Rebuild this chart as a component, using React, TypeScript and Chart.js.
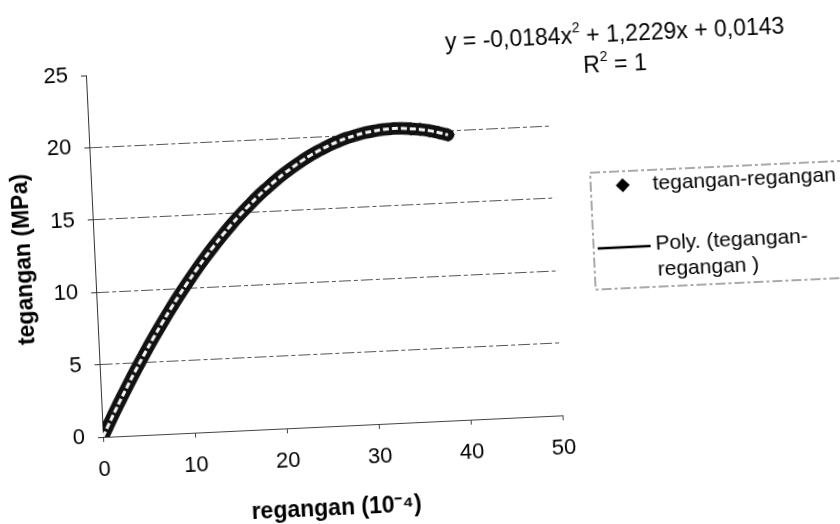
import React, { useEffect, useRef } from "react";
import { Chart, registerables } from "chart.js";

Chart.register(...registerables);

// ---- data ----
const strain = [0, 0.5, 1, 1.5, 2, 3, 4, 5, 6, 7, 8, 9, 10, 11, 12, 13, 14, 15, 16, 17, 18, 19, 20, 21, 22, 23, 24, 25, 26, 27, 28, 29, 30, 31, 32, 33, 34, 35, 36, 37, 38, 39];
const stress = [0.01, 0.62, 1.22, 1.81, 2.39, 3.52, 4.61, 5.67, 6.69, 7.67, 8.62, 9.53, 10.4, 11.24, 12.04, 12.8, 13.53, 14.22, 14.87, 15.48, 16.07, 16.6, 17.11, 17.58, 18.01, 18.4, 18.77, 19.08, 19.37, 19.61, 19.83, 19.99, 20.14, 20.23, 20.31, 20.33, 20.32, 20.26, 20.19, 20.07, 19.91, 19.72];
const xTicks = [0, 10, 20, 30, 40, 50];
const yTicks = [0, 5, 10, 15, 20, 25];
const eqParts = ["y = -0,0184x", "2", " + 1,2229x + 0,0143"];
const r2Parts = ["R", "2", " = 1"];
const legendLabels = ["tegangan-regangan", "Poly. (tegangan-", "regangan )"];
const xTitle = "regangan (10⁻⁴)";
const yTitle = "tegangan (MPa)";

const FONT = "'Liberation Sans', Arial, Helvetica, sans-serif";
const OFF = 20; // canvas is larger than the page on every side

const extrasPlugin = {
  id: "extras",
  afterDraw(chart: any) {
    const ctx = chart.ctx as CanvasRenderingContext2D;
    ctx.save();
    ctx.fillStyle = "#000";
    ctx.textBaseline = "middle";
    ctx.textAlign = "left";

    const drawSup = (parts: string[], cx: number, cy: number, size: number) => {
      const big = `${size}px ${FONT}`;
      const small = `${Math.round(size * 0.62)}px ${FONT}`;
      ctx.font = big;
      const w0 = ctx.measureText(parts[0]).width;
      const w2 = ctx.measureText(parts[2]).width;
      ctx.font = small;
      const w1 = ctx.measureText(parts[1]).width;
      let x = cx - (w0 + w1 + w2) / 2;
      ctx.font = big;
      ctx.fillText(parts[0], x, cy);
      x += w0;
      ctx.font = small;
      ctx.fillText(parts[1], x, cy - size * 0.38);
      x += w1;
      ctx.font = big;
      ctx.fillText(parts[2], x, cy);
    };

    // trendline label
    drawSup(eqParts, 633 + OFF, 60 + OFF, 23);
    drawSup(r2Parts, 632 + OFF, 90 + OFF, 23);

    // legend box
    ctx.strokeStyle = "#555";
    ctx.lineWidth = 1;
    ctx.setLineDash([10, 3, 3, 3]);
    ctx.strokeRect(602 + OFF, 196 + OFF, 320, 117);
    ctx.setLineDash([]);

    // diamond marker
    const dx = 634 + OFF, dy = 210 + OFF, r = 7;
    ctx.beginPath();
    ctx.moveTo(dx, dy - r);
    ctx.lineTo(dx + r, dy);
    ctx.lineTo(dx, dy + r);
    ctx.lineTo(dx - r, dy);
    ctx.closePath();
    ctx.fill();

    ctx.font = `21px ${FONT}`;
    ctx.fillText(legendLabels[0], 664 + OFF, 210 + OFF);

    // trend line sample
    ctx.strokeStyle = "#000";
    ctx.lineWidth = 2.5;
    ctx.beginPath();
    ctx.moveTo(606 + OFF, 272 + OFF);
    ctx.lineTo(659 + OFF, 272 + OFF);
    ctx.stroke();

    ctx.fillText(legendLabels[1], 664 + OFF, 270 + OFF);
    ctx.fillText(legendLabels[2], 665 + OFF, 296 + OFF);
    ctx.restore();
  },
};

export default function App() {
  const ref = useRef<HTMLCanvasElement | null>(null);

  useEffect(() => {
    if (!ref.current) return;
    const pts = strain.map((x, i) => ({ x, y: stress[i] }));
    const n = strain.length;
    const chart = new Chart(ref.current, {
      type: "scatter",
      data: {
        datasets: [
          {
            label: "Poly. (tegangan-regangan )",
            data: pts,
            showLine: true,
            borderColor: "#000",
            borderWidth: 1.5,
            pointRadius: 0,
            tension: 0.4,
            order: 3,
          },
          {
            label: "tegangan-regangan",
            data: pts,
            showLine: true,
            borderColor: "#111",
            backgroundColor: "#111",
            borderWidth: 12.5,
            borderCapStyle: "round",
            borderJoinStyle: "round",
            pointStyle: "rectRot",
            pointRadius: (c: any) => (c.dataIndex >= n - 5 ? 7 : 0),
            pointBorderWidth: 0,
            tension: 0.4,
            order: 2,
          },
          {
            label: "core",
            data: pts,
            showLine: true,
            borderColor: "#f6f6f6",
            borderWidth: 3,
            borderDash: [6, 3],
            pointRadius: 0,
            tension: 0.4,
            order: 1,
          },
        ],
      },
      options: {
        animation: false,
        responsive: false,
        events: [],
        layout: { padding: { left: 0, top: 95, right: 317, bottom: 0 } },
        plugins: { legend: { display: false }, tooltip: { enabled: false } },
        scales: {
          x: {
            type: "linear",
            min: 0,
            max: 50,
            afterBuildTicks: (s: any) => {
              s.ticks = xTicks.map((v) => ({ value: v }));
            },
            afterFit: (s: any) => {
              s.height = 123;
            },
            grid: { drawOnChartArea: false, drawTicks: true, tickLength: 5, tickColor: "#444" },
            border: { display: true, color: "#444", width: 1 },
            ticks: { color: "#000", font: { family: FONT, size: 22 }, padding: 15, maxRotation: 0 },
            title: {
              display: true,
              text: xTitle,
              color: "#000",
              font: { family: FONT, size: 23, weight: "bold" },
              padding: { top: 0, bottom: 27 },
            },
          },
          y: {
            type: "linear",
            min: 0,
            max: 25,
            afterBuildTicks: (s: any) => {
              s.ticks = yTicks.map((v) => ({ value: v }));
            },
            afterFit: (s: any) => {
              s.width = 123;
            },
            grid: {
              color: (c: any) => (c.tick && c.tick.value === 25 ? "rgba(0,0,0,0)" : "#555"),
              tickColor: "#333",
              tickLength: 5,
              lineWidth: 1,
            },
            border: { display: true, color: "#333", width: 1, dash: [12, 3, 4, 3] },
            ticks: { color: "#000", font: { family: FONT, size: 22 }, padding: 13 },
            title: {
              display: true,
              text: yTitle,
              color: "#000",
              font: { family: FONT, size: 23, weight: "bold" },
              padding: { top: 39, bottom: 0 },
            },
          },
        },
      },
      plugins: [extrasPlugin],
    } as any);
    return () => chart.destroy();
  }, []);

  return (
    <div
      style={{
        position: "fixed",
        left: 0,
        top: 0,
        width: 840,
        height: 524,
        overflow: "hidden",
        background: "#fff",
      }}
    >
      <div
        style={{
          position: "absolute",
          left: -OFF,
          top: -OFF,
          width: 900,
          height: 580,
          transformOrigin: `${103 + OFF}px ${437 + OFF}px`,
          transform: "rotate(-2.7deg)",
        }}
      >
        <canvas ref={ref} width={900} height={580} style={{ width: 900, height: 580, display: "block" }} />
      </div>
    </div>
  );
}
